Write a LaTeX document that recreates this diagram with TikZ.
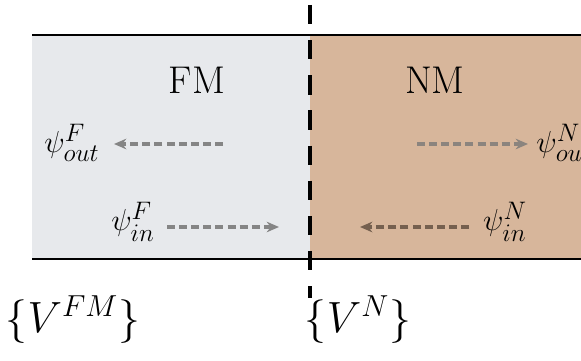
\documentclass[tikz,border=0pt]{standalone}
\usepackage{amsmath}
\usepackage{xcolor}
\usetikzlibrary{arrows.meta, positioning, calc}

\definecolor{fmgray}{HTML}{E7E9EC}
\definecolor{nmbrown}{HTML}{D7B69B}
\definecolor{flowgray}{HTML}{858585}
\definecolor{flowbrown}{HTML}{75604F}

\tikzset{
  flow/.style={line width=2pt, dash pattern=on 4.5pt off 2.4pt, -{Stealth[length=7pt,width=6pt]}, flowgray},
  wavelbl/.style={inner sep=0pt, font=\fontsize{19}{21}\selectfont},
  regionlbl/.style={inner sep=0pt, font=\fontsize{22}{26}\selectfont},
  potlbl/.style={inner sep=0pt, font=\fontsize{26}{30}\selectfont}
}

\begin{document}
\begin{tikzpicture}[x=0.02cm, y=-0.02cm]
    \useasboundingbox (0,0) rectangle (581,361);

    % le due regioni
    \fill[fmgray] (32,35) rectangle (310,259);
    \fill[nmbrown] (310,35) rectangle (581,259);
    \draw[line width=1.2pt] (32,35) -- (581,35);
    \draw[line width=1.2pt] (32,259) -- (581,259);

    % interfaccia
    \draw[line width=2.8pt, dash pattern=on 11pt off 9pt] (310,5) -- (310,298);

    % etichette delle regioni
    \node[regionlbl] (fm) at (197,80) {FM};
    \node[regionlbl] (nm) at (435,80) {NM};

    % funzioni d'onda
    \node[wavelbl] (fout) at (72,143) {$\psi^{F}_{out}$};
    \node[wavelbl] (fin) at (133,222) {$\psi^{F}_{in}$};
    \node[wavelbl] (nout) at (564,143) {$\psi^{N}_{out}$};
    \node[wavelbl] (nin) at (505,222) {$\psi^{N}_{in}$};

    % flussi
    \coordinate (foutA) at (223,144);
    \coordinate (foutB) at (114,144);
    \coordinate (finA) at (167,227);
    \coordinate (finB) at (279,227);
    \coordinate (noutA) at (417,144);
    \coordinate (noutB) at (528,144);
    \coordinate (ninA) at (469,227);
    \coordinate (ninB) at (360,227);
    \draw[flow] (foutA) -- (foutB);
    \draw[flow] (finA) -- (finB);
    \draw[flow, flowgray!90!brown] (noutA) -- (noutB);
    \draw[flow, flowbrown] (ninA) -- (ninB);

    % potenziali
    \node[potlbl] (vfm) at (73,320) {$\{V^{FM}\}$};
    \node[potlbl] (vn) at (358,320) {$\{V^{N}\}$};
\end{tikzpicture}
\end{document}
